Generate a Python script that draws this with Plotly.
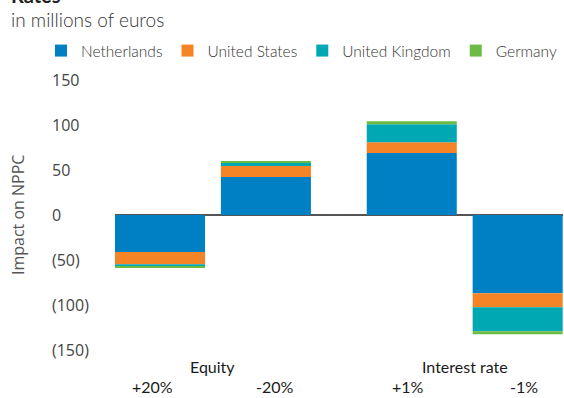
import plotly.graph_objects as go

# Scenario columns and their positions along the x axis (gap between the two shock groups)
scenarios = ["+20%", "-20%", "+1%", "-1%"]
positions = [0.0, 1.0, 2.377, 3.377]
groups = ["Equity", "Interest rate"]
group_centers = [0.5, 2.877]

# Impact on NPPC per country, in millions of euros
countries = ["Netherlands", "United States", "United Kingdom", "Germany"]
netherlands = [-41.0, 42.2, 68.9, -87.0]
united_states = [-13.8, 12.2, 11.9, -15.6]
united_kingdom = [-2.5, 3.4, 20.0, -26.6]
germany = [-1.5, 1.1, 3.3, -3.3]
colors = ["#0080C4", "#F58426", "#00A8B4", "#6CBB45"]

y_ticks = [150, 100, 50, 0, -50, -100, -150]
y_tick_text = ["150", "100", "50", "0", "(50)", "(100)", "(150)"]

W, H = 564, 398
M_L, M_R, M_T, M_B = 115, 1, 80, 48
plot_w = W - M_L - M_R
plot_h = H - M_T - M_B


def px_x(px):
    return (px - M_L) / plot_w


def px_y(py):
    return (H - M_B - py) / plot_h


fig = go.Figure()
for name, vals, col in zip(countries, [netherlands, united_states, united_kingdom, germany], colors):
    fig.add_trace(go.Bar(
        x=positions, y=vals, name=name, width=0.85,
        marker=dict(color=col, line=dict(width=0)),
    ))

annotations = []
# Left-aligned y tick labels
for v, t in zip(y_ticks, y_tick_text):
    annotations.append(dict(
        x=px_x(50), xref="paper", y=v, yref="y", text=t, showarrow=False,
        xanchor="left", yanchor="middle",
        font=dict(family="Open Sans", size=16, color="#444444"),
    ))
# Group labels above the scenario labels
for g, c in zip(groups, group_centers):
    annotations.append(dict(
        x=c, xref="x", y=px_y(366), yref="paper", text=g, showarrow=False,
        xanchor="center", yanchor="middle",
        font=dict(family="Lato", size=16, color="#1a1a1a"),
    ))
# Scenario labels under each column, nudged outwards within each group
label_shift = [-8, 9, -4, 6]
for s, p, dx in zip(scenarios, positions, label_shift):
    annotations.append(dict(
        x=p, xref="x", y=px_y(386), yref="paper", text=s, showarrow=False,
        xanchor="center", yanchor="middle", xshift=dx,
        font=dict(family="Lato", size=16, color="#1a1a1a"),
    ))
# Y axis title
annotations.append(dict(
    x=px_x(18), xref="paper", y=px_y(215), yref="paper", text="Impact on NPPC",
    showarrow=False, textangle=-90, xanchor="center", yanchor="middle",
    font=dict(family="Open Sans", size=16, color="#555555"),
))
# Title and subtitle
annotations.append(dict(
    x=px_x(9), xref="paper", y=px_y(9), yref="paper", text="<b>Rates</b>",
    showarrow=False, xanchor="left", yanchor="bottom",
    font=dict(family="Lato", size=20, color="#222222"),
))
annotations.append(dict(
    x=px_x(9), xref="paper", y=px_y(19), yref="paper", text="in millions of euros",
    showarrow=False, xanchor="left", yanchor="middle",
    font=dict(family="Lato", size=19, color="#333333", weight=300),
))

fig.update_layout(
    width=W, height=H,
    margin=dict(l=M_L, r=M_R, t=M_T, b=M_B, autoexpand=False),
    barmode="relative",
    plot_bgcolor="white", paper_bgcolor="white",
    showlegend=True,
    legend=dict(
        orientation="h", x=px_x(41), xanchor="left", y=px_y(51), yanchor="middle",
        font=dict(family="Lato", size=15.5, color="#333333", weight=300),
        bgcolor="rgba(0,0,0,0)", traceorder="normal", itemclick=False,
    ),
    xaxis=dict(
        range=[-0.425, 3.805], tickvals=positions, showticklabels=False,
        showgrid=False, zeroline=False, showline=False, ticks="",
    ),
    yaxis=dict(
        range=[-150, 150], tickvals=y_ticks, showticklabels=False,
        showgrid=False, zeroline=True, zerolinecolor="#555555", zerolinewidth=1.5,
        showline=False, ticks="",
    ),
    annotations=annotations,
)

fig.write_html("out.html")
